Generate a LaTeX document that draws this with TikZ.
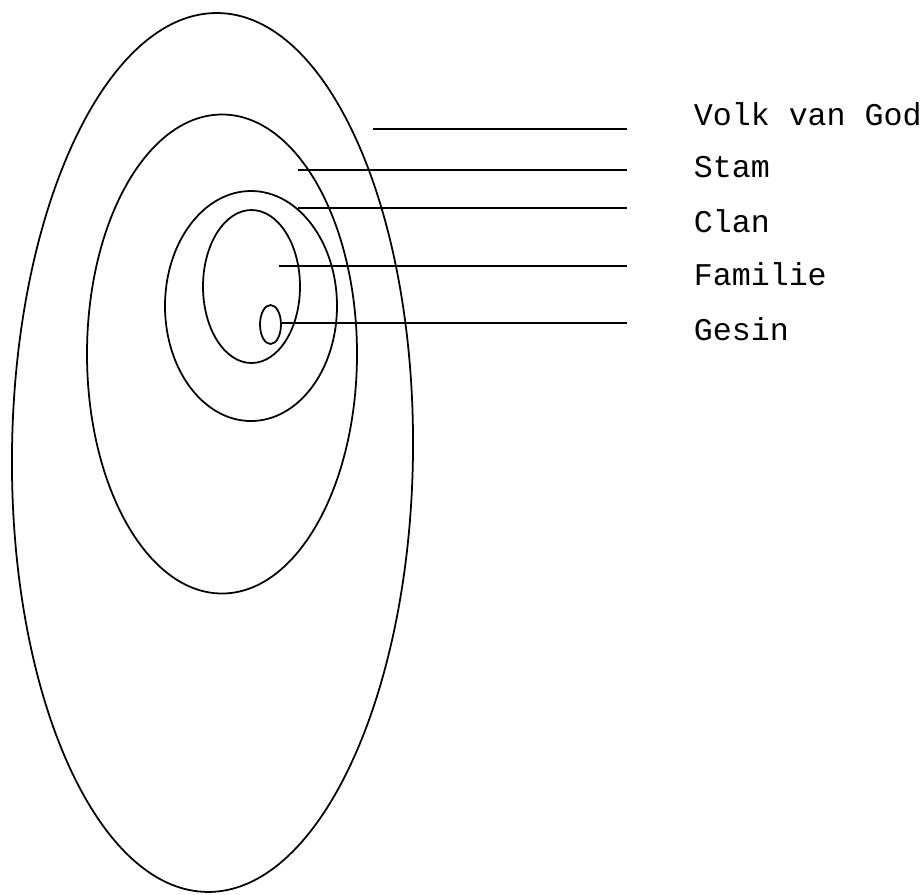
\documentclass[tikz,border=0pt]{standalone}
\usepackage{fontspec}
\setmonofont{Liberation Mono}
\usetikzlibrary{positioning}

\begin{document}
\begin{tikzpicture}[x=0.02cm, y=-0.02cm, line width=1pt,
    tag/.style={anchor=base west, inner sep=0pt, font=\fontsize{18}{20}\selectfont\ttfamily}]
 			\useasboundingbox (0,0) rectangle (922,894);
 			
 			% Centres of the rings
 			\coordinate (volk) at (212.5,452.5);
 			\coordinate (stam) at (222,354);
 			\coordinate (clan) at (251,306);
 			\coordinate (fam) at (251.5,286.5);
 			\coordinate (gesin) at (270.5,324.5);
 			
 			% Rings
 			\draw[rotate around={-0.7:(volk)}] (volk) ellipse [x radius=200.5, y radius=439.5];
 			\draw (stam) ellipse [x radius=135, y radius=239.5];
 			\draw (clan) ellipse [x radius=86, y radius=115];
 			\draw (fam) ellipse [x radius=48.5, y radius=76.5];
 			\draw (gesin) ellipse [x radius=10.5, y radius=19.5];
 			
 			% Labels
 			\node[tag] (t-volk) at (693,125) {Volk van God};
 			\node[tag] (t-stam) at (693,177) {Stam};
 			\node[tag] (t-clan) at (693,232) {Clan};
 			\node[tag] (t-fam) at (693,285) {Familie};
 			\node[tag] (t-gesin) at (693,340) {Gesin};
 			
 			% Pointer lines
 			\coordinate (volk-a) at (373,129);
 			\coordinate (volk-b) at (627,129);
 			\coordinate (stam-a) at (298,170);
 			\coordinate (stam-b) at (627,170);
 			\coordinate (clan-a) at (298,208);
 			\coordinate (clan-b) at (627,208);
 			\coordinate (fam-a) at (279,266);
 			\coordinate (fam-b) at (627,266);
 			\coordinate (gesin-a) at (281,323);
 			\coordinate (gesin-b) at (627,323);
 			\draw (volk-a) -- (volk-b);
 			\draw (stam-a) -- (stam-b);
 			\draw (clan-a) -- (clan-b);
 			\draw (fam-a) -- (fam-b);
 			\draw (gesin-a) -- (gesin-b);
 			
 		\end{tikzpicture}
\end{document}
